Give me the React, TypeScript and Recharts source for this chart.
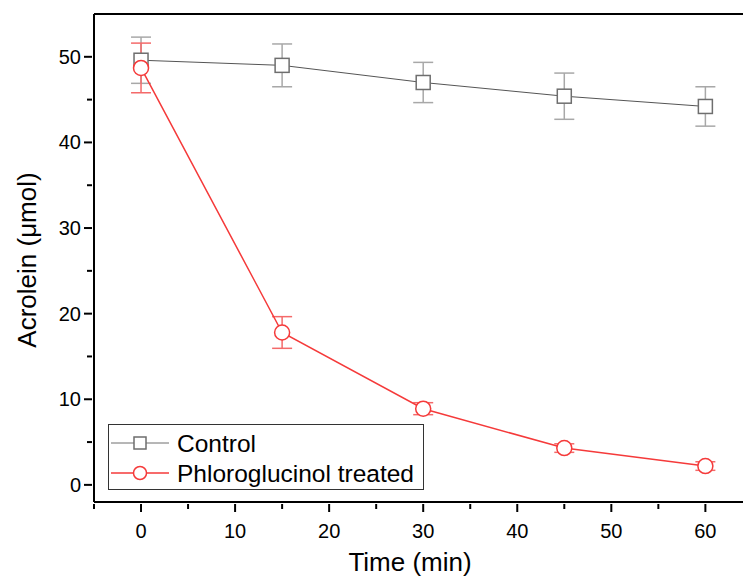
import React from "react";
import {
  ErrorBar,
  Line,
  LineChart,
  ReferenceLine,
  XAxis,
  YAxis,
} from "recharts";

const times = [0, 15, 30, 45, 60];
const controlValues = [49.6, 49.0, 47.0, 45.4, 44.2];
const controlErrors = [2.7, 2.5, 2.35, 2.7, 2.3];
const treatedValues = [48.7, 17.8, 8.9, 4.3, 2.2];
const treatedErrors = [2.9, 1.85, 0.7, 0.5, 0.5];

const xTicks = [-5, 0, 5, 10, 15, 20, 25, 30, 35, 40, 45, 50, 55, 60];
const yTicks = [0, 5, 10, 15, 20, 25, 30, 35, 40, 45, 50];

const FONT = "'Liberation Sans', Arial, sans-serif";
const GREY = "#6e6e6e";
const RED = "#f53a3a";

const data = times.map((t, i) => ({
  time: t,
  control: controlValues[i],
  controlErr: controlErrors[i],
  treated: treatedValues[i],
  treatedErr: treatedErrors[i],
}));

const XTick = (props: any) => {
  const { x, y, payload } = props;
  const major = payload.value % 10 === 0;
  return (
    <g>
      <line x1={x} x2={x} y1={y} y2={y + (major ? 8 : 5)} stroke="#000" strokeWidth={2} />
      {major && (
        <text x={x} y={y + 34} textAnchor="middle" fontSize={20} fontFamily={FONT} fill="#000">
          {payload.value}
        </text>
      )}
    </g>
  );
};

const YTick = (props: any) => {
  const { x, y, payload } = props;
  const major = payload.value % 10 === 0;
  return (
    <g>
      <line x1={x} x2={x - (major ? 8 : 5)} y1={y} y2={y} stroke="#000" strokeWidth={2} />
      {major && (
        <text x={x - 11} y={y + 7} textAnchor="end" fontSize={20} fontFamily={FONT} fill="#000">
          {payload.value}
        </text>
      )}
    </g>
  );
};

const SquareDot = (props: any) => {
  const { cx, cy, index } = props;
  return (
    <rect
      key={`sq-${index}`}
      x={cx - 7}
      y={cy - 7}
      width={14}
      height={14}
      fill="#fff"
      stroke={GREY}
      strokeWidth={1.5}
    />
  );
};

const XTitle = () => (
  <text x={410} y={571} textAnchor="middle" fontSize={26} fontFamily={FONT} fill="#000">
    Time (min)
  </text>
);

const YTitle = () => (
  <text
    transform="translate(36,260) rotate(-90)"
    textAnchor="middle"
    fontSize={26}
    fontFamily={FONT}
    fill="#000"
  >
    Acrolein ({"\u03bc"}mol)
  </text>
);

const Legend = () => (
  <div
    style={{
      position: "absolute",
      left: 108,
      top: 424,
      width: 314,
      height: 64,
      border: "1px solid #333",
      background: "#fff",
    }}
  >
    <svg width={314} height={64} style={{ position: "absolute", left: 0, top: 0 }}>
      <line x1={2} x2={60} y1={18} y2={18} stroke={GREY} strokeWidth={1} />
      <rect x={25} y={12} width={12} height={12} fill="#fff" stroke={GREY} strokeWidth={1.5} />
      <text x={68} y={27} fontSize={24.5} fontFamily={FONT}>
        Control
      </text>
      <line x1={2} x2={60} y1={48} y2={48} stroke={RED} strokeWidth={1.5} />
      <circle cx={31} cy={48} r={6.5} fill="#fff" stroke={RED} strokeWidth={1.5} />
      <text x={68} y={57} fontSize={24.5} fontFamily={FONT}>
        Phloroglucinol treated
      </text>
    </svg>
  </div>
);

export default function App() {
  return (
    <div style={{ position: "absolute", left: 0, top: 0, width: 744, height: 579, background: "#fff" }}>
      <LineChart
        width={744}
        height={579}
        data={data}
        margin={{ top: 14, right: 1, bottom: 0, left: 0 }}
      >
        <XAxis
          dataKey="time"
          type="number"
          domain={[-5, 64]}
          ticks={xTicks}
          interval={0}
          height={77}
          tickSize={0}
          tickLine={false}
          axisLine={{ stroke: "#000", strokeWidth: 2 }}
          tick={<XTick />}
          label={{ content: () => <XTitle /> }}
        />
        <YAxis
          type="number"
          domain={[-2, 55]}
          ticks={yTicks}
          interval={0}
          width={94}
          tickSize={0}
          tickLine={false}
          axisLine={{ stroke: "#000", strokeWidth: 2 }}
          tick={<YTick />}
          label={{ content: () => <YTitle /> }}
        />
        <ReferenceLine y={55} stroke="#000" strokeWidth={2} />
        <Line
          dataKey="control"
          stroke="#555"
          strokeWidth={1}
          dot={SquareDot}
          activeDot={false}
          isAnimationActive={false}
        >
          <ErrorBar dataKey="controlErr" width={10} stroke="#a8a8a8" strokeWidth={1.5} direction="y" />
        </Line>
        <Line
          dataKey="treated"
          stroke={RED}
          strokeWidth={1.5}
          dot={{ r: 7.5, fill: "#fff", stroke: RED, strokeWidth: 1.5 }}
          activeDot={false}
          isAnimationActive={false}
        >
          <ErrorBar dataKey="treatedErr" width={10} stroke="#f46a6a" strokeWidth={1.5} direction="y" />
        </Line>
      </LineChart>
      <Legend />
    </div>
  );
}
